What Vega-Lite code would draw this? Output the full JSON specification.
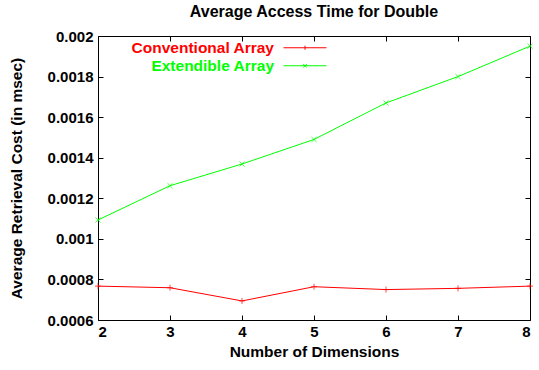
{
  "$schema": "https://vega.github.io/schema/vega-lite/v6.json",
  "width": 432,
  "height": 284,
  "autosize": {"type": "none"},
  "padding": {"left": 98, "top": 36, "right": 9, "bottom": 50},
  "background": "white",
  "title": {"text": "Average Access Time for Double", "font": "Liberation Sans", "fontSize": 16, "fontWeight": "bold", "color": "black", "anchor": "middle", "offset": 9},
  "config": {
    "view": {"stroke": "black", "strokeWidth": 1},
    "axis": {"labelFont": "Liberation Sans", "labelFontSize": 15, "labelFontWeight": "bold", "labelColor": "black", "titleFont": "Liberation Sans", "titleFontSize": 15.5, "titleFontWeight": "bold", "titleColor": "black", "grid": false, "domain": false, "tickColor": "black", "tickSize": -5, "labelPadding": 10}
  },
  "data": {"values": [
    {"dim": 2, "series": "Conventional Array", "cost": 0.000767},
    {"dim": 3, "series": "Conventional Array", "cost": 0.000759},
    {"dim": 4, "series": "Conventional Array", "cost": 0.000694},
    {"dim": 5, "series": "Conventional Array", "cost": 0.000764},
    {"dim": 6, "series": "Conventional Array", "cost": 0.00075},
    {"dim": 7, "series": "Conventional Array", "cost": 0.000756},
    {"dim": 8, "series": "Conventional Array", "cost": 0.000767},
    {"dim": 2, "series": "Extendible Array", "cost": 0.001093},
    {"dim": 3, "series": "Extendible Array", "cost": 0.001262},
    {"dim": 4, "series": "Extendible Array", "cost": 0.001369},
    {"dim": 5, "series": "Extendible Array", "cost": 0.00149},
    {"dim": 6, "series": "Extendible Array", "cost": 0.00167},
    {"dim": 7, "series": "Extendible Array", "cost": 0.0018},
    {"dim": 8, "series": "Extendible Array", "cost": 0.00195}
  ]},
  "layer": [
    {
      "mark": {"type": "line", "strokeWidth": 1},
      "encoding": {
        "x": {"field": "dim", "type": "quantitative", "scale": {"domain": [2, 8], "nice": false, "zero": false}, "axis": {"values": [2, 3, 4, 5, 6, 7, 8], "title": "Number of Dimensions", "titlePadding": 5, "labelPadding": 9}},
        "y": {"field": "cost", "type": "quantitative", "scale": {"domain": [0.0006, 0.002], "nice": false, "zero": false}, "axis": {"values": [0.0006, 0.0008, 0.001, 0.0012, 0.0014, 0.0016, 0.0018, 0.002], "format": ".4~g", "title": "Average Retrieval Cost (in msec)", "titlePadding": 23}},
        "color": {"field": "series", "type": "nominal", "scale": {"domain": ["Conventional Array", "Extendible Array"], "range": ["#ff0000", "#00ff00"]},
          "legend": {"title": null, "orient": "none", "legendX": 0, "legendY": 4, "labelFont": "Liberation Sans", "labelFontSize": 15.5, "labelFontWeight": "bold", "rowPadding": 1, "symbolSize": 100, "symbolStrokeWidth": 1,
            "encode": {
              "labels": {"update": {"x": {"value": 176}, "align": {"value": "right"}, "fill": {"signal": "datum.value == 'Conventional Array' ? '#ff0000' : '#00ff00'"}}},
              "symbols": {"update": {"x": {"value": 207}, "shape": {"signal": "datum.value == 'Conventional Array' ? 'M-4.3,0H4.3M0,-0.4V0.4' : 'M-4.3,0H4.3M-0.35,-0.35L0.35,0.35M-0.35,0.35L0.35,-0.35'"}, "fill": {"value": "transparent"}}}
            }}}
      }
    },
    {
      "transform": [{"filter": "datum.series == 'Conventional Array'"}],
      "mark": {"type": "point", "filled": false, "strokeWidth": 1, "size": 36, "shape": "M-1,0H1M0,-1V1"},
      "encoding": {
        "x": {"field": "dim", "type": "quantitative", "axis": {"orient": "top", "values": [2, 3, 4, 5, 6, 7, 8], "labels": false, "title": null}},
        "y": {"field": "cost", "type": "quantitative", "axis": {"orient": "right", "values": [0.0006, 0.0008, 0.001, 0.0012, 0.0014, 0.0016, 0.0018, 0.002], "labels": false, "title": null}},
        "color": {"field": "series", "type": "nominal", "legend": null}
      }
    },
    {
      "transform": [{"filter": "datum.series == 'Extendible Array'"}],
      "mark": {"type": "point", "filled": false, "strokeWidth": 1, "size": 36, "shape": "M-0.85,-0.85L0.85,0.85M-0.85,0.85L0.85,-0.85"},
      "encoding": {
        "x": {"field": "dim", "type": "quantitative", "axis": null},
        "y": {"field": "cost", "type": "quantitative", "axis": null},
        "color": {"field": "series", "type": "nominal", "legend": null}
      }
    }
  ],
  "resolve": {"axis": {"x": "independent", "y": "independent"}}
}
